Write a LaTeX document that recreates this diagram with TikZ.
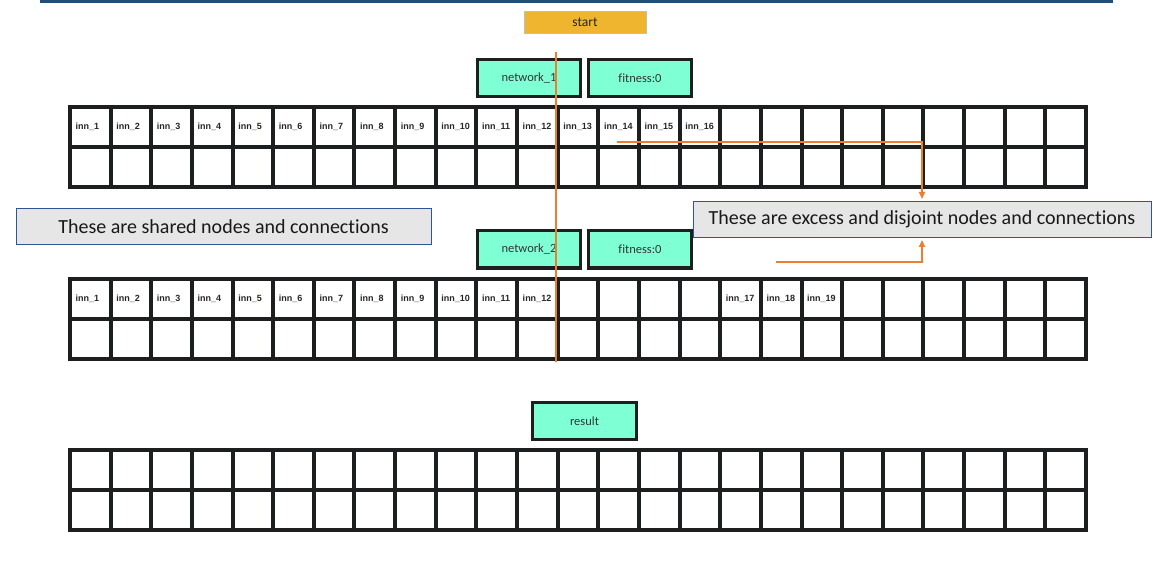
\documentclass[tikz,border=0pt]{standalone}
\usepackage{fontspec}
\setmainfont{Carlito}[Ligatures=NoCommon]
\newfontfamily\cellfont{Liberation Sans}
\usetikzlibrary{arrows.meta}
\definecolor{aqua}{HTML}{7FFFD4}
\definecolor{gold}{HTML}{F0B52E}
\definecolor{calloutfill}{HTML}{E7E6E6}
\definecolor{calloutdraw}{HTML}{2F5597}
\definecolor{orng}{HTML}{ED7D31}
\definecolor{topblue}{HTML}{1F4E79}
\definecolor{griddark}{HTML}{1C1E20}
\begin{document}
\begin{tikzpicture}[x=1pt,y=-1pt,
  cell/.style={draw=griddark, line width=4pt, fill=white, minimum width=40.64pt, minimum height=40pt, inner sep=0pt},
  lbl/.style={font=\cellfont\bfseries\fontsize{9}{10}\selectfont, text=black!85, inner sep=0pt, anchor=west},
  aquabox/.style={draw=griddark, line width=3pt, fill=aqua, minimum width=103pt, minimum height=37pt, inner sep=0pt, text=black!80, font=\fontsize{12.5}{14}\selectfont},
  callout/.style={draw=calloutdraw, line width=1pt, fill=calloutfill, minimum height=36pt, inner sep=0pt, text=black!90, font=\fontsize{20}{22}\selectfont},
  oline/.style={draw=orng, line width=2pt},
  oarrow/.style={draw=orng, line width=2pt, -{Triangle[length=7pt,width=6pt]}}
]
\useasboundingbox (0,0) rectangle (1153,577);
\draw[topblue, line width=3pt] (40,1.5) -- (1113,1.5);

% grids
\foreach \g/\yy in {a/107, b/279, c/450}{
  \foreach \r in {1,2}{
    \foreach \i in {1,...,25}{
      \node[cell] (\g-\r-\i) at ({70+(\i-0.5)*40.64},{\yy+(\r-0.5)*40}) {};
    }
  }
}
% labels
\foreach \i in {1,...,16}{
  \node[lbl] (la-\i) at ([xshift=7.5pt]a-1-\i.west) {inn\_\i};
}
\foreach \i in {1,...,12,17,18,19}{
  \node[lbl] (lb-\i) at ([xshift=7.5pt]b-1-\i.west) {inn\_\i};
}

% top boxes
\node[draw=black!25, line width=0.8pt, fill=gold, minimum width=122pt, minimum height=22pt, inner sep=0pt, text=black!85, font=\fontsize{13.5}{15}\selectfont] (start) at (585,22) {start};
\node[aquabox] (net1) at (529,78) {network\_1};
\node[aquabox] (fit1) at (640,78) {fitness:0};
\node[aquabox] (net2) at (529,249.5) {network\_2};
\node[aquabox] (fit2) at (640,249.5) {fitness:0};
\node[aquabox, minimum width=104pt] (result) at (584.5,421) {result};

% callouts
\node[callout, minimum width=415pt] (shared) at (223.5,226.5) {These are shared nodes and connections};
\node[callout, minimum width=458pt] (excess) at (922,219.5) {These are excess and disjoint nodes and connections};

% orange connectors
\coordinate (v1) at (556,52);
\coordinate (v2) at (556,362);
\draw[oline] (v1) -- (v2);
\coordinate (p1) at (617,142);
\draw[oarrow, shorten >=2pt] (p1) -| (excess.north);
\coordinate (p2) at (776,262);
\draw[oarrow, shorten >=2pt] (p2) -| (excess.south);
\end{tikzpicture}
\end{document}
